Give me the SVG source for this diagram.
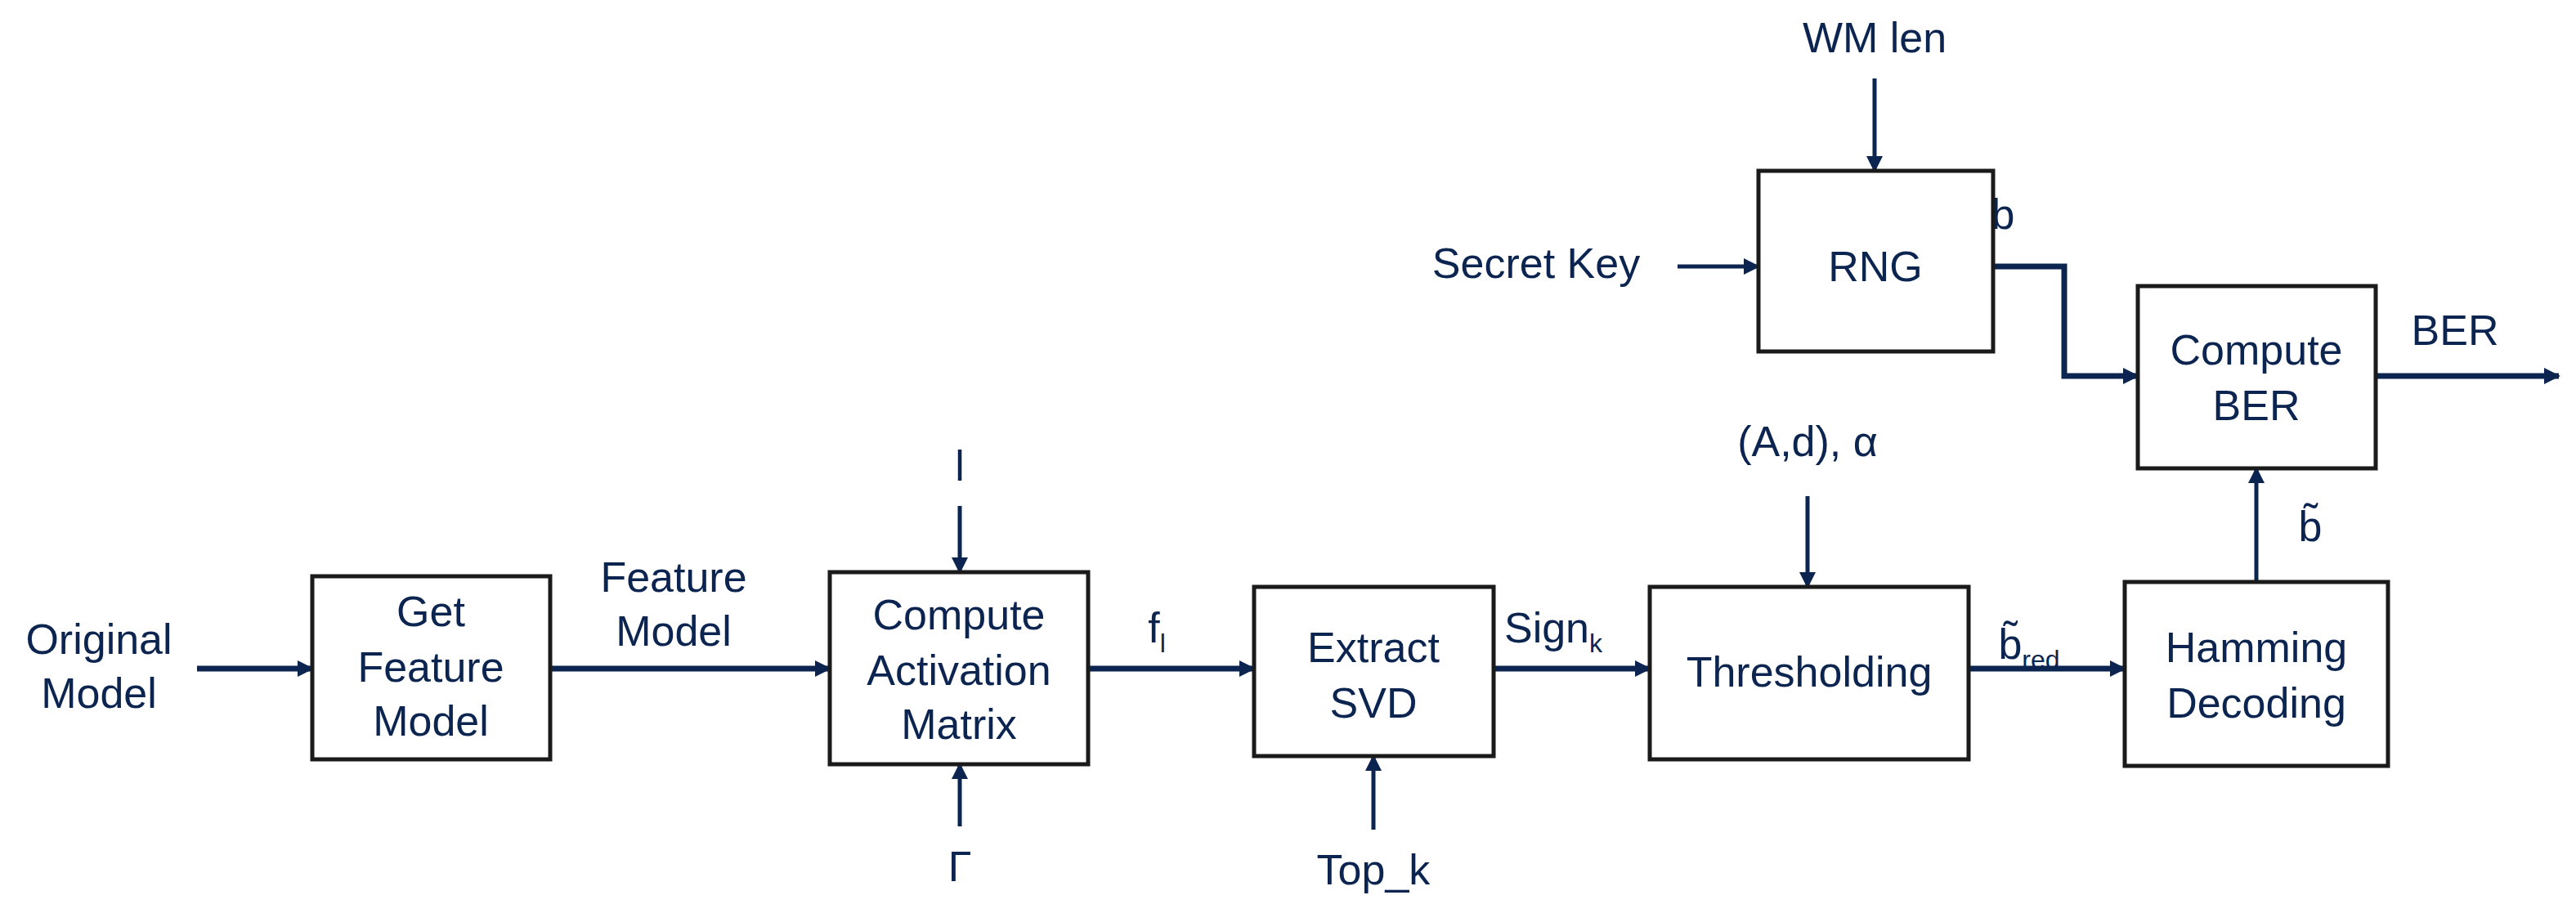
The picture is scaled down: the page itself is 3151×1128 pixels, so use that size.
<svg xmlns="http://www.w3.org/2000/svg" width="3151" height="1128" viewBox="0 0 3151 1128">
<style>
.b{fill:#fff;stroke:#1a1a1a;stroke-width:5}
text{font-family:"Liberation Sans",Arial,sans-serif;font-size:52px;fill:#0b2550;text-anchor:middle}
.sub{font-size:32px}
.c{fill:none;stroke:#0b2550;stroke-width:5}
.t{stroke-width:7}
</style>
<defs>
<marker id="a" viewBox="0 0 10 10" refX="9" refY="5" markerWidth="5" markerHeight="5" markerUnits="userSpaceOnUse" orient="auto"><path d="M0,0L10,5L0,10z" fill="#0b2550"/></marker>
<marker id="m" viewBox="0 0 10 10" refX="9" refY="5" markerWidth="24" markerHeight="20" markerUnits="userSpaceOnUse" orient="auto"><path d="M0,0L10,5L0,10z" fill="#0b2550"/></marker>
</defs>
<g id="connectors">
<path class="c t" d="M241,818H382" marker-end="url(#m)"/>
<path class="c t" d="M673,818H1015" marker-end="url(#m)"/>
<path class="c" d="M1174,619V700" marker-end="url(#m)"/>
<path class="c" d="M1174,1011V935" marker-end="url(#m)"/>
<path class="c t" d="M1331,818H1534" marker-end="url(#m)"/>
<path class="c" d="M1680,1015V925" marker-end="url(#m)"/>
<path class="c t" d="M1827,818H2018" marker-end="url(#m)"/>
<path class="c" d="M2211,607V718" marker-end="url(#m)"/>
<path class="c t" d="M2408,818H2599" marker-end="url(#m)"/>
<path class="c" d="M2760,712V573" marker-end="url(#m)"/>
<path class="c t" d="M2906,460H3130" marker-end="url(#m)"/>
<path class="c" d="M2293,96V209" marker-end="url(#m)"/>
<path class="c" d="M2052,326H2151" marker-end="url(#m)"/>
<path class="c t" d="M2438,326H2525V460H2615" marker-end="url(#m)"/>
</g>
<g id="lbl">
<text x="121" y="800">Original</text><text x="121" y="866">Model</text>
<text x="824" y="724">Feature</text><text x="824" y="790">Model</text>
<text x="1174" y="588">l</text>
<text x="1174" y="1078">Γ</text>
<text x="1415" y="786">f<tspan class="sub" dy="12">l</tspan></text>
<text x="1680" y="1082">Top_k</text>
<text x="1900" y="786">Sign<tspan class="sub" dy="12">k</tspan></text>
<text x="2211" y="558">(A,d), α</text>
<text x="2482" y="806">b̃<tspan class="sub" dy="12">red</tspan></text>
<text x="2826" y="662">b̃</text>
<text x="3003" y="422">BER</text>
<text x="2293" y="64">WM len</text>
<text x="1879" y="340">Secret Key</text>
<text x="2450" y="280">b</text>
</g>
<g id="n1"><rect class="b" x="382" y="705" width="291" height="224"/><text x="527" y="766">Get</text><text x="527" y="834">Feature</text><text x="527" y="900">Model</text></g>
<g id="n2"><rect class="b" x="1015" y="700" width="316" height="235"/><text x="1173" y="770">Compute</text><text x="1173" y="838">Activation</text><text x="1173" y="904">Matrix</text></g>
<g id="n3"><rect class="b" x="1534" y="718" width="293" height="207"/><text x="1680" y="810">Extract</text><text x="1680" y="878">SVD</text></g>
<g id="n4"><rect class="b" x="2018" y="718" width="390" height="211"/><text x="2213" y="840">Thresholding</text></g>
<g id="n5"><rect class="b" x="2599" y="712" width="322" height="225"/><text x="2760" y="810">Hamming</text><text x="2760" y="878">Decoding</text></g>
<g id="n6"><rect class="b" x="2615" y="350" width="291" height="223"/><text x="2760" y="446">Compute</text><text x="2760" y="514">BER</text></g>
<g id="n7"><rect class="b" x="2151" y="209" width="287" height="221"/><text x="2294" y="344">RNG</text></g>
</svg>
